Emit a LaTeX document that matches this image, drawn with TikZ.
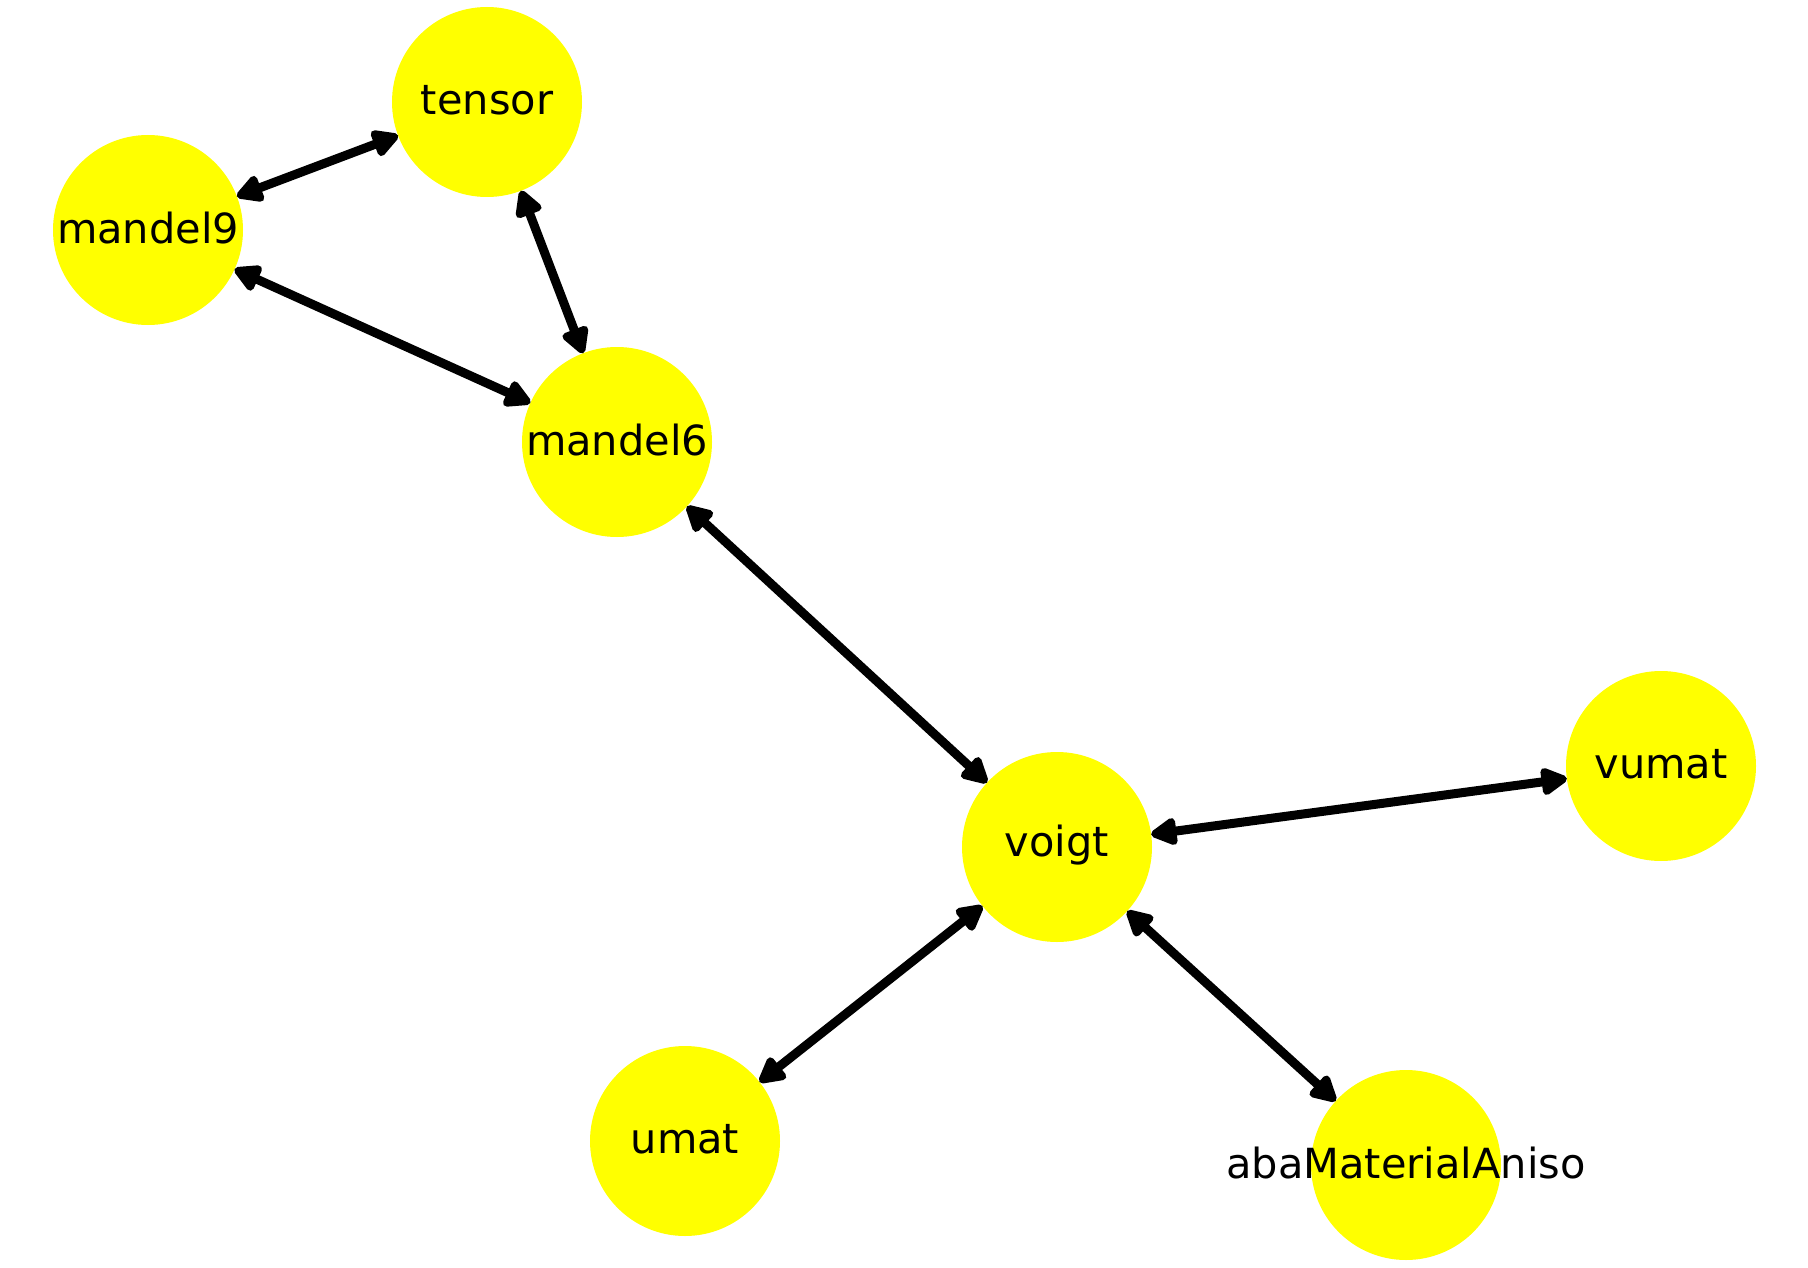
\documentclass[tikz,border=0pt]{standalone}
\usepackage{fontspec}
\setmainfont{DejaVu Sans}
\usetikzlibrary{arrows.meta}
\definecolor{nodeyellow}{RGB}{255,255,0}
\begin{document}
\begin{tikzpicture}[x=1pt,y=-1pt,
  vert/.style={circle,fill=nodeyellow,minimum size=190pt,inner sep=0pt,outer sep=0pt},
  lab/.style={font=\fontsize{41.5}{49}\selectfont,inner sep=0pt,anchor=center,yshift=1.5pt},
  edge/.style={line width=9pt,black,{Triangle[round,length=30pt,width=30pt]}-{Triangle[round,length=30pt,width=30pt]}}]
\useasboundingbox (0,0) rectangle (1808,1268);
\node[vert] (tensor) at (487,102) {};
\node[vert] (mandel9) at (148,230) {};
\node[vert] (mandel6) at (617,442) {};
\node[vert] (voigt) at (1057,847) {};
\node[vert] (vumat) at (1661,766) {};
\node[vert] (umat) at (685,1141) {};
\node[vert] (aba) at (1406,1165) {};
\draw[edge] (mandel9) -- (tensor);
\draw[edge] (tensor) -- (mandel6);
\draw[edge] (mandel9) -- (mandel6);
\draw[edge] (mandel6) -- (voigt);
\draw[edge] (voigt) -- (vumat);
\draw[edge] (voigt) -- (umat);
\draw[edge] (voigt) -- (aba);
\node[lab] (tensorl) at (tensor) {tensor};
\node[lab] (mandel9l) at (mandel9) {mandel9};
\node[lab] (mandel6l) at (mandel6) {mandel6};
\node[lab] (voigtl) at (voigt) {voigt};
\node[lab] (vumatl) at (vumat) {vumat};
\node[lab] (umatl) at (umat) {umat};
\node[lab] (abal) at (aba) {abaMaterialAniso};
\end{tikzpicture}
\end{document}
